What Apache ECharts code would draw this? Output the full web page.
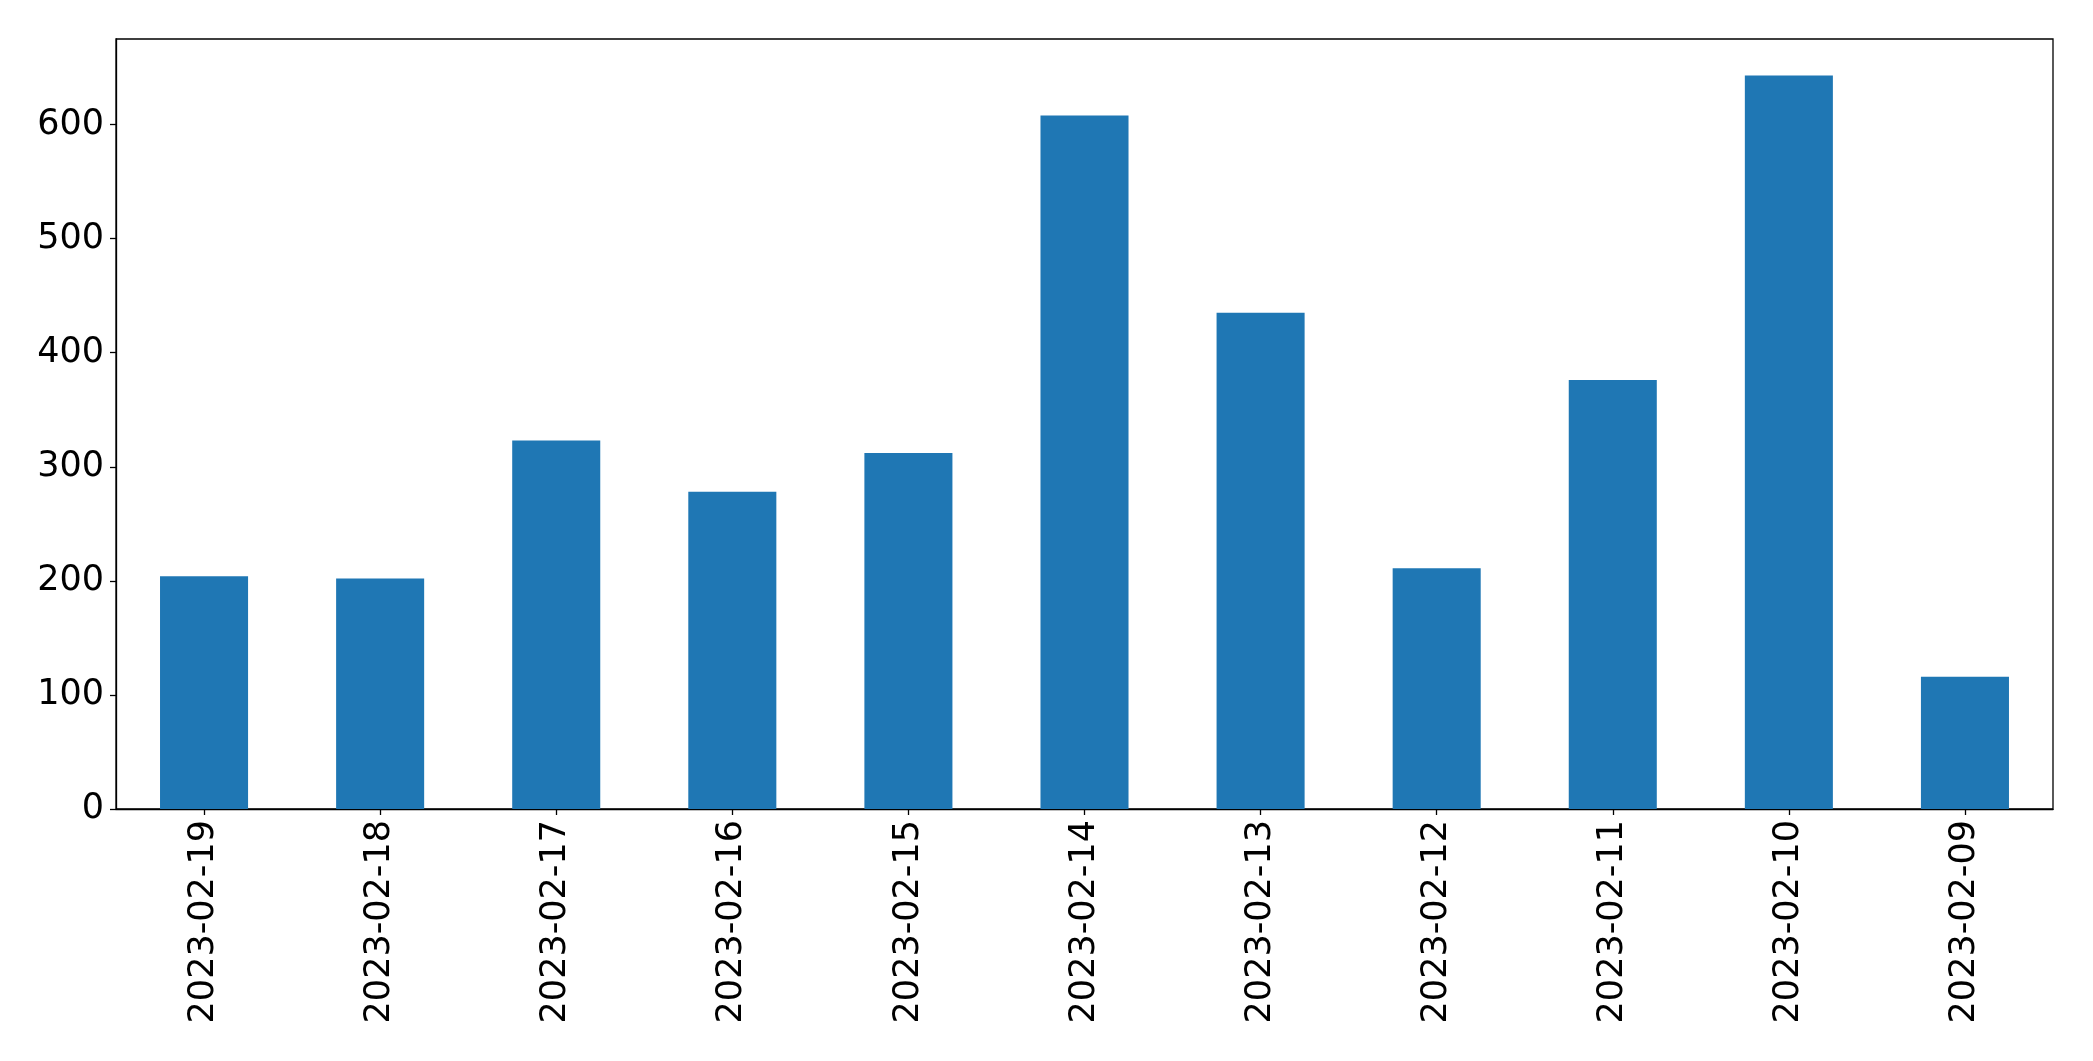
<!DOCTYPE html>
<html>
<head>
<meta charset="utf-8">
<script src="https://cdn.jsdelivr.net/npm/echarts@6/dist/echarts.min.js"></script>
<style>
html,body{margin:0;padding:0;background:#fff;}
#chart{width:2093px;height:1061px;}
</style>
</head>
<body>
<div id="chart"></div>
<script>
const categories = ['2023-02-19','2023-02-18','2023-02-17','2023-02-16','2023-02-15','2023-02-14','2023-02-13','2023-02-12','2023-02-11','2023-02-10','2023-02-09'];
const values = [204, 202, 323, 278, 312, 608, 435, 211, 376, 643, 116];
const yTicks = [0, 100, 200, 300, 400, 500, 600];

const chart = echarts.init(document.getElementById('chart'), null, {renderer: 'canvas'});
const font = 'DejaVu Sans';
chart.setOption({
  animation: false,
  backgroundColor: '#ffffff',
  grid: {
    left: 116, right: 40, top: 39, bottom: 252,
    show: true, borderColor: '#000', borderWidth: 1.3, backgroundColor: 'transparent'
  },
  xAxis: {
    type: 'category',
    data: categories,
    boundaryGap: true,
    axisLine: {show: true, lineStyle: {color: '#000', width: 1.3}},
    axisTick: {show: true, alignWithLabel: true, length: 6, lineStyle: {color: '#000', width: 1.3}},
    axisLabel: {
      rotate: 90, interval: 0, margin: 11,
      color: '#000', fontFamily: font, fontSize: 35
    },
    splitLine: {show: false}
  },
  yAxis: {
    type: 'value',
    min: 0, max: 675, interval: 100,
    axisLine: {show: true, lineStyle: {color: '#000', width: 1.3}},
    axisTick: {show: true, length: 6, customValues: yTicks, lineStyle: {color: '#000', width: 1.3}},
    axisLabel: {
      margin: 12, color: '#000', fontFamily: font, fontSize: 35,
      customValues: yTicks,
      formatter: function (v) { return yTicks.indexOf(v) >= 0 ? String(v) : ''; }
    },
    splitLine: {show: false}
  },
  series: [{
    type: 'bar',
    data: values,
    barWidth: '50%',
    itemStyle: {color: '#1f77b4'}
  }]
});
</script>
</body>
</html>
